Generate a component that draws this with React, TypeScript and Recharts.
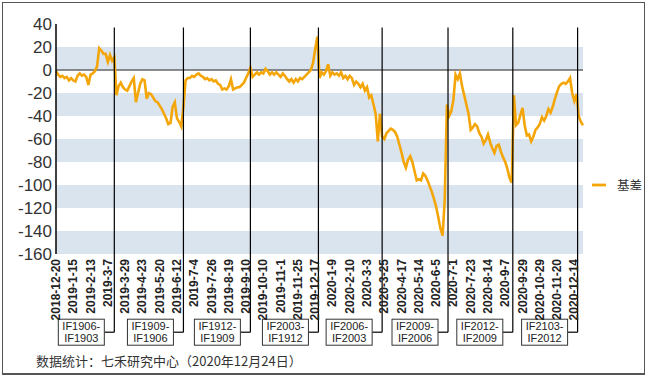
import React from 'react';
import { LineChart, Line, XAxis, YAxis, ReferenceArea, ReferenceLine, Legend } from 'recharts';

// trading-day index of each date label on the x axis (every 16 trading days)
const tickDays = [0, 16, 32, 48, 64, 80, 96, 112, 128, 144, 160, 176, 192, 208, 224, 240,
  256, 272, 288, 304, 320, 336, 352, 368, 384, 400, 416, 432, 448, 464, 480];
const dateLabels = [
  '2018-12-20', '2019-1-15', '2019-2-13', '2019-3-7', '2019-3-29', '2019-4-23', '2019-5-20',
  '2019-6-12', '2019-7-4', '2019-7-26', '2019-8-19', '2019-9-10', '2019-10-10', '2019-11-1',
  '2019-11-25', '2019-12-17', '2020-1-9', '2020-2-10', '2020-3-3', '2020-3-25', '2020-4-17',
  '2020-5-14', '2020-6-5', '2020-7-1', '2020-7-23', '2020-8-14', '2020-9-7', '2020-9-29',
  '2020-10-29', '2020-11-20', '2020-12-14',
];
const yTicks = [40, 20, 0, -20, -40, -60, -80, -100, -120, -140, -160];
const bands = [[0, 20], [-40, -20], [-80, -60], [-120, -100], [-160, -140]];

// contract roll days (trading-day index) and the spread names shown in the boxes
const rollDays = [54, 118, 180, 243, 302, 363, 423, 483];
const rollPairs = [
  ['IF1906-', 'IF1903'], ['IF1909-', 'IF1906'], ['IF1912-', 'IF1909'], ['IF2003-', 'IF1912'],
  ['IF2006-', 'IF2003'], ['IF2009-', 'IF2006'], ['IF2012-', 'IF2009'], ['IF2103-', 'IF2012'],
];

// basis, read every 2nd trading day from 2018-12-20 to 2020-12-24
const basis = [
  -1, -4, -6, -5, -7, -6, -9, -7, -9, -10, -5, -3, -5, -4, -6, -13, -4, -3, -1, 3,
  19, 17, 14, 14, 7, 13, 8, 11,
  -22, -14, -11, -15, -17, -18, -14, -10, -7, -28, -20, -12, -8, -9, -25, -20, -21, -24,
  -27, -28, -31, -34, -38, -42, -47, -46, -32, -28, -42, -45, -49, -32,
  -9, -7, -7, -5, -6, -4, -3, -5, -6, -8, -7, -9, -8, -10, -9, -12, -13, -17, -16, -17,
  -14, -8, -17, -16, -15, -15, -13, -11, -7, -3, 2,
  -6, -4, -2, -4, -2, -3, 1, -1, -4, -2, -4, -2, -4, -6, -3, -5, -8, -10, -8, -11,
  -8, -10, -7, -8, -6, -4, -2, 0, 6, 18, 29,
  -7, -2, -4, -1, 5, -5, -2, -4, -3, -5, -2, -7, -5, -8, -5, -7, -13, -10, -12, -15,
  -12, -18, -15, -24, -22, -30, -38, -62, -38,
  -58, -60, -55, -53, -51, -52, -54, -58, -65, -72, -80, -85, -78, -75, -80, -88,
  -96, -95, -96, -90, -92, -96, -101, -106, -112, -119, -128, -138, -144, -112, -30,
  -40, -36, -26, -4, -8, -3, -14, -22, -30, -38, -52, -50, -47, -49, -55, -58, -64, -61,
  -56, -63, -68, -72, -66, -65, -71, -76, -80, -86, -94, -98,
  -22, -48, -46, -39, -33, -48, -57, -56, -62, -58, -52, -50, -47, -41, -44, -40, -34,
  -37, -32, -25, -19, -14, -12, -11, -12, -10, -7, -20, -27, -21,
  -40, -45, -48,
];

const data = basis.map((v, k) => ({ day: k * 2, basis: v }));

const LINE_COLOR = '#F4A609';
const LATIN = '"Liberation Sans", Arial, sans-serif';
const CJK = '"Noto Sans CJK SC", sans-serif';

function DateTick(props: any) {
  const { x, y, payload } = props;
  const label = dateLabels[tickDays.indexOf(payload.value)];
  return (
    <text
      x={0}
      y={0}
      transform={`translate(${x},${y}) rotate(-90)`}
      textAnchor="end"
      dominantBaseline="central"
      fontFamily={LATIN}
      fontSize={12}
      fontWeight="bold"
      fill="#222"
    >
      {label}
    </text>
  );
}

const rollLabel = (pair: string[]) => (props: any) => {
  const vb = props.viewBox || {};
  const x = vb.x;
  const bottom = vb.y + vb.height;
  const right = x - 10;
  const w = 46;
  return (
    <g>
      <line x1={x} y1={bottom} x2={right} y2={bottom} stroke="#000" strokeWidth={1.2} />
      <rect x={right - w} y={bottom - 13} width={w} height={26} fill="#fff" stroke="#333" strokeWidth={1} />
      <text x={right - w / 2} y={bottom - 2} textAnchor="middle" fontFamily={LATIN} fontSize={11} fill="#222">
        {pair[0]}
      </text>
      <text x={right - w / 2} y={bottom + 10} textAnchor="middle" fontFamily={LATIN} fontSize={11} fill="#222">
        {pair[1]}
      </text>
    </g>
  );
};

export default function App() {
  return (
    <div style={{ position: 'absolute', left: 0, top: 0, width: 655, height: 378, background: '#fff' }}>
      <div
        style={{
          position: 'absolute', left: 2, top: 2, width: 643, height: 373,
          boxSizing: 'border-box', border: '1px solid #555', borderBottomWidth: 2,
        }}
      />
      <LineChart width={655} height={378} data={data} margin={{ top: 24, right: 72, bottom: 0, left: 0 }}>
        {bands.map((b, i) => (
          <ReferenceArea key={i} y1={b[0]} y2={b[1]} fill="#dae4ef" fillOpacity={1} stroke="none" />
        ))}
        <ReferenceLine y={0} stroke="#666" strokeWidth={1.6} />
        <XAxis
          type="number"
          dataKey="day"
          domain={[0, 488]}
          ticks={tickDays}
          interval={0}
          tick={(p: any) => <DateTick {...p} />}
          tickLine={false}
          axisLine={false}
          tickSize={0}
          tickMargin={5}
          height={124}
        />
        <YAxis
          type="number"
          domain={[-160, 40]}
          ticks={yTicks}
          interval={0}
          width={56}
          tickLine={false}
          tickSize={4}
          tickMargin={0}
          axisLine={{ stroke: '#000', strokeWidth: 1.5 }}
          tick={{ fontFamily: LATIN, fontSize: 17, fill: '#333' }}
        />
        <Line
          type="linear"
          dataKey="basis"
          name="基差"
          stroke={LINE_COLOR}
          strokeWidth={2.6}
          dot={false}
          isAnimationActive={false}
        />
        {rollDays.map((d, i) => (
          <ReferenceLine
            key={'r' + i}
            segment={[{ x: d, y: 37 }, { x: d, y: -228 }]}
            stroke="#000"
            strokeWidth={1.2}
            ifOverflow="visible"
            label={rollLabel(rollPairs[i])}
          />
        ))}
        <Legend
          layout="horizontal"
          verticalAlign="middle"
          align="center"
          wrapperStyle={{ left: 591, top: 175, width: 60 }}
          content={() => (
            <div style={{ display: 'flex', alignItems: 'center', fontFamily: CJK, fontSize: 12.5, color: '#333' }}>
              <svg width={16} height={6}>
                <line x1={1} y1={3} x2={15} y2={3} stroke={LINE_COLOR} strokeWidth={2.8} />
              </svg>
              <span style={{ marginLeft: 10 }}>基差</span>
            </div>
          )}
        />
      </LineChart>
      <div
        style={{
          position: 'absolute', left: 36, top: 351, fontFamily: CJK, fontSize: 13, color: '#333',
          whiteSpace: 'nowrap',
        }}
      >
        数据统计：七禾研究中心（2020年12月24日）
      </div>
    </div>
  );
}
